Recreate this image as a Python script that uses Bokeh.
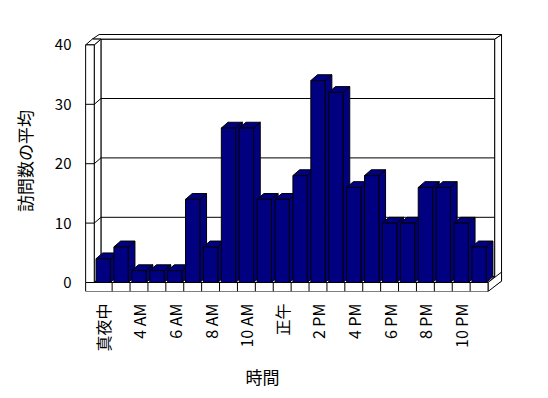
import math
from bokeh.plotting import figure
from bokeh.models import Range1d, FixedTicker, Title
from bokeh.embed import file_html
from bokeh.resources import INLINE

# ---------------- data ----------------
categories = ["真夜中", "1 AM", "4 AM", "5 AM", "6 AM", "7 AM", "8 AM", "9 AM",
              "10 AM", "11 AM", "正午", "1 PM", "2 PM", "3 PM", "4 PM", "5 PM",
              "6 PM", "7 PM", "8 PM", "9 PM", "10 PM", "11 PM"]
visits = [4, 6, 2, 2, 2, 14, 6, 26, 26, 14, 14, 18, 34, 32, 16, 18, 10, 10, 16, 16, 10, 6]
y_ticks = [0, 10, 20, 30, 40]
x_title = "時間"
y_title = "訪問数の平均"

# ---------------- geometry (pixels -> data units) ----------------
n = len(categories)
y_max = y_ticks[-1]
SX = 17.9          # px per category
SY = 5.94          # px per value unit
FW, FH = 422, 261  # frame size
BL, BR, BT, BB = 83, 35, 30, 106
X0, Y0 = -1.1, -1.515
DX, DY = 6.7 / SX, 5.8 / SY     # depth offset
TX, TY = 6.8 / SX, 4.6 / SY     # wall thickness offset
W = 8.6 / SX                    # side wall thickness
HF = 9.0 / SY                   # floor thickness
HALF = 0.4                      # half bar width
left, right = -0.5, n - 0.5

FONT = "Noto Sans CJK JP"
NAVY = "#000080"

p = figure(width=BL + FW + BR, height=BT + FH + BB,
           x_range=Range1d(X0, X0 + FW / SX), y_range=Range1d(Y0, Y0 + FH / SY),
           output_backend="svg", toolbar_location=None,
           min_border_left=BL, min_border_right=BR, min_border_top=BT, min_border_bottom=BB)
p.outline_line_color = None
p.grid.visible = False
p.background_fill_color = "white"
p.border_fill_color = "white"

# ---------------- walls & floor ----------------
wall_polys = [
    # back wall face
    [(left + DX, DY), (right + DX, DY), (right + DX, y_max + DY), (left + DX, y_max + DY)],
    # back wall right thickness
    [(right + DX, -HF + DY), (right + DX, y_max + DY), (right + DX + TX, y_max + DY + TY), (right + DX + TX, -HF + DY + TY)],
    # back wall top thickness
    [(left - W + DX, y_max + DY), (right + DX, y_max + DY), (right + DX + TX, y_max + DY + TY), (left - W + DX + TX, y_max + DY + TY)],
    # side wall inner face
    [(left, 0), (left, y_max), (left + DX, y_max + DY), (left + DX, DY)],
    # side wall top
    [(left - W, y_max), (left, y_max), (left + DX, y_max + DY), (left - W + DX, y_max + DY)],
    # side wall front
    [(left - W, 0), (left, 0), (left, y_max), (left - W, y_max)],
    # floor top
    [(left, 0), (right, 0), (right + DX, DY), (left + DX, DY)],
    # floor right side
    [(right, -HF), (right, 0), (right + DX + TX, DY + TY), (right + DX + TX, -HF + DY + TY)],
    # floor front
    [(left - W, -HF), (right, -HF), (right, 0), (left - W, 0)],
]
p.patches([[pt[0] for pt in poly] for poly in wall_polys],
          [[pt[1] for pt in poly] for poly in wall_polys],
          fill_color="white", line_color="black", line_width=1)

# gridlines on side wall and back wall
gx, gy = [], []
for v in y_ticks[1:-1]:
    gx.append([left - W, left, left + DX, right + DX])
    gy.append([v, v, v + DY, v + DY])
# category separators on floor front
for k in range(1, n):
    gx.append([k - 0.5, k - 0.5])
    gy.append([-HF, 0])
p.multi_line(gx, gy, line_color="black", line_width=1)

# ---------------- bars ----------------
bxs, bys = [], []
for k, v in enumerate(visits):
    xl, xr = k - HALF, k + HALF
    side = [(xr, 0), (xr, v), (xr + DX, v + DY), (xr + DX, DY)]
    top = [(xl, v), (xr, v), (xr + DX, v + DY), (xl + DX, v + DY)]
    front = [(xl, 0), (xr, 0), (xr, v), (xl, v)]
    for poly in (side, top, front):
        bxs.append([pt[0] for pt in poly])
        bys.append([pt[1] for pt in poly])
p.patches(bxs, bys, fill_color=NAVY, line_color="black", line_width=1)

# ---------------- axes ----------------
xa = p.xaxis[0]
xa.ticker = FixedTicker(ticks=list(range(0, n, 2)))
xa.major_label_overrides = {i: categories[i] for i in range(0, n, 2)}
xa.major_label_orientation = math.pi / 2
xa.axis_line_color = None
xa.major_tick_line_color = None
xa.minor_tick_line_color = None
xa.major_tick_out = 0
xa.major_tick_in = 0
xa.major_label_standoff = 12
xa.major_label_text_font = FONT
xa.major_label_text_font_size = "16px"
xa.major_label_text_color = "black"

# x axis title, placed left of the frame centre as in the original
p.add_layout(Title(text=x_title, align="left", offset=162, standoff=14,
                   text_font=FONT, text_font_size="17px", text_font_style="normal",
                   text_color="black"), "below")

ya = p.yaxis[0]
ya.ticker = FixedTicker(ticks=y_ticks)
ya.axis_line_color = None
ya.major_tick_line_color = None
ya.minor_tick_line_color = None
ya.major_tick_out = 0
ya.major_tick_in = 0
ya.major_label_standoff = 12
ya.major_label_text_font = FONT
ya.major_label_text_font_size = "15px"
ya.major_label_text_color = "black"
ya.axis_label = y_title
ya.axis_label_text_font = FONT
ya.axis_label_text_font_size = "17px"
ya.axis_label_text_font_style = "normal"
ya.axis_label_text_color = "black"
ya.axis_label_standoff = 15

open("out.html", "w").write(file_html(p, INLINE))
